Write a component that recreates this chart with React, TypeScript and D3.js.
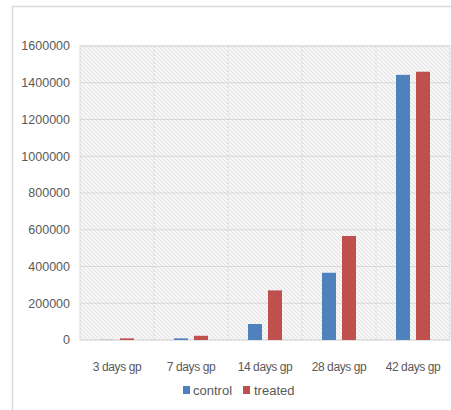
import React from "react";
import * as d3 from "d3";

const categories = ["3 days gp", "7 days gp", "14 days gp", "28 days gp", "42 days gp"];
const seriesNames = ["control", "treated"];
const controlValues = [1000, 9000, 87000, 366000, 1443000];
const treatedValues = [9000, 23000, 270000, 566000, 1460000];
const yTicks = [0, 200000, 400000, 600000, 800000, 1000000, 1200000, 1400000, 1600000];
const colors = ["#4f81bd", "#c0504d"];

const W = 451;
const H = 410;
const plot = { left: 80, right: 450, top: 46, bottom: 340 };
const font = "'Liberation Sans', Arial, sans-serif";

export default function App() {
  const x = d3.scaleBand<string>().domain(categories).range([plot.left, plot.right]).paddingInner(0).paddingOuter(0);
  const y = d3.scaleLinear().domain([0, 1600000]).range([plot.bottom, plot.top]);
  const bw = x.bandwidth();
  const barW = 14;
  const gap = 6;
  const series = [controlValues, treatedValues];

  return (
    <svg width={W} height={H} style={{ position: "absolute", left: 0, top: 0, background: "#fff" }}>
      <defs>
        <pattern id="hatch" width="4" height="4" patternUnits="userSpaceOnUse">
          <rect width="4" height="4" fill="#f6f6f6" />
          <path d="M-1,-1 L5,5 M-1,3 L1,5 M3,-1 L5,1" stroke="#e2e2e2" strokeWidth="1" />
        </pattern>
      </defs>
      <rect x={12.5} y={6.5} width={W} height={H} fill="#fff" stroke="#d9d9d9" strokeWidth={1.5} />
      <rect x={plot.left} y={plot.top} width={plot.right - plot.left} height={plot.bottom - plot.top} fill="url(#hatch)" stroke="#dcdcdc" strokeWidth={1} />
      {yTicks.map((t) => (
        <line key={"g" + t} x1={plot.left} x2={plot.right} y1={y(t)} y2={y(t)} stroke="#d9d9d9" strokeWidth={1} />
      ))}
      {categories.slice(1).map((c) => (
        <line key={"v" + c} x1={x(c)!} x2={x(c)!} y1={plot.top} y2={plot.bottom} stroke="#d6d6d6" strokeWidth={1} strokeDasharray="2,2" />
      ))}
      {yTicks.map((t) => (
        <text key={"t" + t} x={70} y={y(t)} dy="0.35em" textAnchor="end" fontFamily={font} fontSize={12.5} fill="#595959">
          {t}
        </text>
      ))}
      {series.map((vals, si) =>
        categories.map((c, i) => {
          const cx = x(c)! + bw / 2;
          const bx = si === 0 ? cx - gap / 2 - barW : cx + gap / 2;
          return (
            <rect key={si + "-" + c} x={bx} y={y(vals[i])} width={barW} height={y(0) - y(vals[i])} fill={colors[si]} />
          );
        })
      )}
      {categories.map((c) => (
        <text key={"x" + c} x={x(c)! + bw / 2} y={367} dy="0.35em" textAnchor="middle" fontFamily={font} fontSize={12} fill="#595959" letterSpacing={-0.4}>
          {c}
        </text>
      ))}
      <g>
        <rect x={183} y={386} width={7} height={8} fill={colors[0]} />
        <text x={193} y={390} dy="0.35em" fontFamily={font} fontSize={13} fill="#595959">{seriesNames[0]}</text>
        <rect x={243} y={386} width={7} height={8} fill={colors[1]} />
        <text x={254} y={390} dy="0.35em" fontFamily={font} fontSize={13} fill="#595959">{seriesNames[1]}</text>
      </g>
    </svg>
  );
}
